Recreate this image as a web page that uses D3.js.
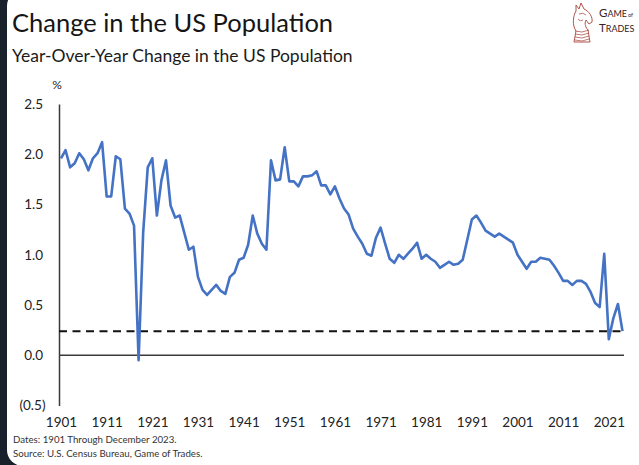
<!DOCTYPE html>
<html>
<head>
<meta charset="utf-8">
<script src="https://cdn.jsdelivr.net/npm/d3@7"></script>
<style>
  html, body { margin: 0; padding: 0; background: #17202b; }
  svg { display: block; }
  text { font-family: Lato, "Open Sans", sans-serif; }
</style>
</head>
<body>
<svg id="chart" width="639" height="465"></svg>
<script>
// Year-over-year change in US population, % (1901 .. Dec 2023 reading)
const firstYear = 1901;
const growthPct = [
  1.96, 2.04, 1.87, 1.91, 2.01, 1.95, 1.84, 1.96, 2.01, 2.12,   // 1901-1910
  1.58, 1.58, 1.98, 1.95, 1.46, 1.41, 1.29, -0.05, 1.22, 1.87,  // 1911-1920
  1.96, 1.39, 1.74, 1.94, 1.49, 1.37, 1.39, 1.22, 1.05, 1.08,   // 1921-1930
  0.78, 0.65, 0.60, 0.65, 0.70, 0.64, 0.61, 0.78, 0.82, 0.95,   // 1931-1940
  0.97, 1.10, 1.39, 1.21, 1.11, 1.05, 1.94, 1.74, 1.75, 2.07,   // 1941-1950
  1.73, 1.73, 1.68, 1.78, 1.78, 1.79, 1.83, 1.69, 1.69, 1.60,   // 1951-1960
  1.68, 1.56, 1.46, 1.40, 1.26, 1.18, 1.11, 1.01, 0.99, 1.17,   // 1961-1970
  1.27, 1.11, 0.96, 0.92, 1.00, 0.96, 1.01, 1.06, 1.12, 0.96,   // 1971-1980
  1.00, 0.96, 0.93, 0.87, 0.90, 0.93, 0.90, 0.91, 0.95, 1.15,   // 1981-1990
  1.35, 1.39, 1.32, 1.24, 1.21, 1.18, 1.21, 1.18, 1.15, 1.12,   // 1991-2000
  1.00, 0.93, 0.86, 0.93, 0.93, 0.97, 0.96, 0.95, 0.89, 0.82,   // 2001-2010
  0.74, 0.74, 0.70, 0.74, 0.74, 0.71, 0.63, 0.52, 0.48, 1.01,   // 2011-2020
  0.16, 0.37, 0.51, 0.24                                        // 2021-2023, latest
];
const latestValue = 0.24;           // dashed reference level
const yTicks = [-0.5, 0, 0.5, 1.0, 1.5, 2.0, 2.5];
const xTickYears = [1901, 1911, 1921, 1931, 1941, 1951, 1961, 1971, 1981, 1991, 2001, 2011, 2021];

const titleText = "Change in the US Population";
const subtitleText = "Year-Over-Year Change in the US Population";
const notes = ["Dates: 1901 Through December 2023.", "Source: U.S. Census Bureau, Game of Trades."];

const series = growthPct.map((v, i) => ({ year: firstYear + i, value: v }));

const svg = d3.select("#chart");

// card background with rounded left corners
svg.append("rect").attr("x", 0).attr("y", 0).attr("width", 639).attr("height", 465).attr("fill", "#17202b");
svg.append("rect").attr("x", 7).attr("y", -10).attr("width", 700).attr("height", 476)
  .attr("rx", 16).attr("fill", "#ffffff");

const x = d3.scaleLinear().domain([firstYear, firstYear + growthPct.length - 1]).range([61, 622.5]);
const y = d3.scaleLinear().domain([-0.5, 2.5]).range([405.5, 104]);
const plotLeft = 59, plotRight = 624;

// titles
svg.append("text").attr("x", 12).attr("y", 32).attr("font-size", 25.5).attr("font-weight", 400)
  .attr("fill", "#151515").text(titleText);
svg.append("text").attr("x", 12).attr("y", 62).attr("font-size", 17.5).attr("fill", "#1b1b1b")
  .text(subtitleText);

// y axis
const fmt = d => d < 0 ? `(${Math.abs(d).toFixed(1)})` : d.toFixed(1);
const yAxis = svg.append("g").attr("transform", `translate(${plotLeft},0)`)
  .call(d3.axisLeft(y).tickValues(yTicks).tickFormat(fmt).tickSize(0).tickSizeOuter(0).tickPadding(16));
yAxis.select(".domain").attr("stroke", "#3a3a3a").attr("stroke-width", 1.5);
yAxis.selectAll("text").attr("font-size", 13.5).attr("fill", "#222")
  .attr("font-family", "Lato, sans-serif")
  .attr("dx", d => d < 0 ? 2.5 : 0);

svg.append("text").attr("x", 57).attr("y", 89).attr("text-anchor", "middle")
  .attr("font-size", 12).attr("fill", "#222").text("%");

// x axis labels
const xAxis = svg.append("g").attr("transform", `translate(0,${y(-0.5)})`)
  .call(d3.axisBottom(x).tickValues(xTickYears).tickFormat(d3.format("d")).tickSize(0).tickPadding(12));
xAxis.select(".domain").remove();
xAxis.selectAll("text").attr("font-size", 13.5).attr("fill", "#222")
  .attr("font-family", "Lato, sans-serif");

// zero line
svg.append("line").attr("x1", plotLeft).attr("x2", plotRight)
  .attr("y1", y(0)).attr("y2", y(0)).attr("stroke", "#3a3a3a").attr("stroke-width", 1.5);

// dashed latest-level line
svg.append("line").attr("x1", plotLeft).attr("x2", plotRight)
  .attr("y1", y(latestValue)).attr("y2", y(latestValue))
  .attr("stroke", "#111").attr("stroke-width", 2).attr("stroke-dasharray", "8,5.5");

// series line
svg.append("path").datum(series)
  .attr("fill", "none").attr("stroke", "#4472c4").attr("stroke-width", 2.6)
  .attr("stroke-linejoin", "round")
  .attr("d", d3.line().x(d => x(d.year)).y(d => y(d.value)));

// footnotes
svg.selectAll("text.note").data(notes).join("text").attr("class", "note")
  .attr("x", 13).attr("y", (d, i) => 443 + i * 13.5)
  .attr("font-size", 9.7).attr("fill", "#333").text(d => d);

// brand mark (knight + wordmark)
const logo = svg.append("g").attr("transform", "translate(571,2)");
logo.append("path")
  .attr("d", "M5,3 L8,7 L10,1 L13,7 C18,9 22,15 21,20 L18,22 L15,18 C13,22 15,26 17,28 L19,40 L3,40 L5,29 C1,23 2,14 5,9 Z")
  .attr("fill", "none").attr("stroke", "#b0554c").attr("stroke-width", 1);
[29, 32, 35, 38].forEach(v => {
  logo.append("path").attr("d", `M4,${v} Q11,${v + 2.5} 18,${v - 1}`)
    .attr("fill", "none").attr("stroke", "#b0554c").attr("stroke-width", 0.8);
});
logo.append("path").attr("d", "M8,12 Q12,10 15,13 M7,17 Q9,20 12,18")
  .attr("fill", "none").attr("stroke", "#b0554c").attr("stroke-width", 0.8);

const w1 = svg.append("text").attr("x", 599).attr("y", 17)
  .attr("font-family", "'Liberation Serif', 'DejaVu Serif', serif").attr("fill", "#3a2222");
w1.append("tspan").attr("font-size", 11.5).text("G");
w1.append("tspan").attr("font-size", 9).text("AME");
w1.append("tspan").attr("font-size", 5.5).attr("dx", 1).text("of");
const w2 = svg.append("text").attr("x", 599).attr("y", 32)
  .attr("font-family", "'Liberation Serif', 'DejaVu Serif', serif").attr("fill", "#3a2222");
w2.append("tspan").attr("font-size", 11.5).text("T");
w2.append("tspan").attr("font-size", 9).text("RADES");
</script>
</body>
</html>
